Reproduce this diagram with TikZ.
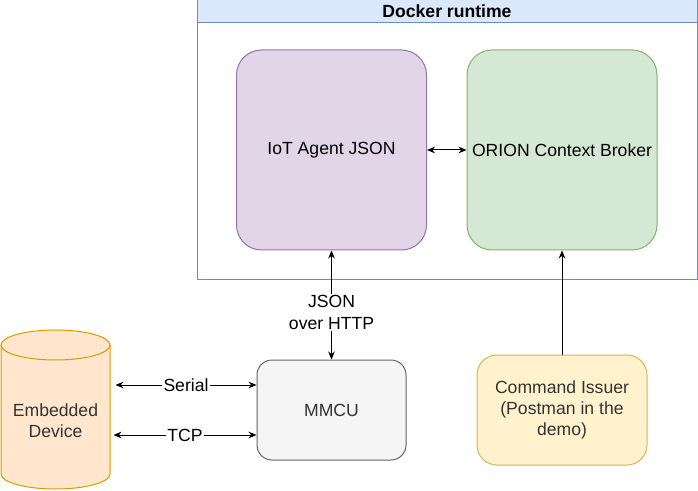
\documentclass[tikz,border=0pt]{standalone}
\usepackage{fontspec}
\setmainfont{Liberation Sans}
\usetikzlibrary{arrows.meta}
\definecolor{dockerFill}{HTML}{DAE8FC}
\definecolor{dockerLine}{HTML}{6C8EBF}
\definecolor{iotFill}{HTML}{E1D5E7}
\definecolor{iotLine}{HTML}{9673A6}
\definecolor{orionFill}{HTML}{D5E8D4}
\definecolor{orionLine}{HTML}{82B366}
\definecolor{mmcuFill}{HTML}{F5F5F5}
\definecolor{mmcuLine}{HTML}{666666}
\definecolor{mmcuText}{HTML}{333333}
\definecolor{issuerFill}{HTML}{FFF2CC}
\definecolor{issuerLine}{HTML}{D6B656}
\definecolor{deviceFill}{HTML}{FFE6CC}
\definecolor{deviceLine}{HTML}{D79B00}
\begin{document}
\begin{tikzpicture}[x=0.75pt, y=-0.75pt, line width=0.75pt,
    font=\fontsize{13.2}{15.5}\selectfont,
    boxStyle/.style={rectangle, draw, align=center, inner sep=0pt},
    labelStyle/.style={fill=white, align=center, inner sep=1pt, font=\fontsize{13.2}{16.5}\selectfont},
    arrowStyle/.style={{Stealth[length=6pt, width=5pt]}-{Stealth[length=6pt, width=5pt]}}]
    \useasboundingbox (0,0) rectangle (698,491);

    \node[boxStyle, draw=dockerLine, minimum width=375pt, minimum height=209.25pt](docker) at (447, 139.5) {};
    \node[boxStyle, draw=dockerLine, fill=dockerFill, minimum width=375pt, minimum height=17.25pt, anchor=north, font=\fontsize{13.2}{15.5}\selectfont\bfseries](header) at (docker.north) {Docker runtime};
    \node[boxStyle, draw=iotLine, fill=iotFill, rounded corners=18.75pt, minimum width=142.5pt, minimum height=150pt](iot) at (331.5, 150) {IoT Agent JSON};
    \node[boxStyle, draw=orionLine, fill=orionFill, rounded corners=18.75pt, minimum width=142.5pt, minimum height=150pt](orion) at (562, 150) {ORION Context Broker};
    \node[boxStyle, draw=mmcuLine, fill=mmcuFill, text=mmcuText, rounded corners=11.25pt, minimum width=111.75pt, minimum height=75pt](mmcu) at (331.5, 410) {MMCU};
    \node[boxStyle, draw=issuerLine, fill=issuerFill, text=mmcuText, rounded corners=15pt, minimum width=127.5pt, minimum height=82.5pt](issuer) at (562, 410) {Command Issuer\\(Postman in the\\demo)};

    % cylinder
    \draw[draw=deviceLine, fill=deviceFill] (1, 345) -- (1, 474) arc (180:0:54.5 and 15) -- (110, 345) arc (0:-180:54.5 and 15) -- cycle;
    \draw[draw=deviceLine] (1, 345) arc (180:0:54.5 and 15);
    \node[align=center, text=mmcuText, minimum width=81.75pt, minimum height=106.5pt, inner sep=0pt](device) at (55.5, 421) {Embedded\\Device};

    \draw[arrowStyle] (iot) -- (orion);
    \draw[arrowStyle] (mmcu) -- node[labelStyle, pos=0.43]{JSON\\over HTTP} (iot);
    \draw[arrowStyle] ([xshift=3.75pt, yshift=18.75pt]mmcu.west -| device.east) -- node[labelStyle]{Serial} ([yshift=18.75pt]mmcu.west);
    \draw[arrowStyle] ([xshift=2.25pt, yshift=-18.75pt]mmcu.west -| device.east) -- node[labelStyle]{TCP} ([yshift=-18.75pt]mmcu.west);
    \draw[-{Stealth[length=6pt, width=5pt]}] (issuer) -- (orion);
\end{tikzpicture}
\end{document}
